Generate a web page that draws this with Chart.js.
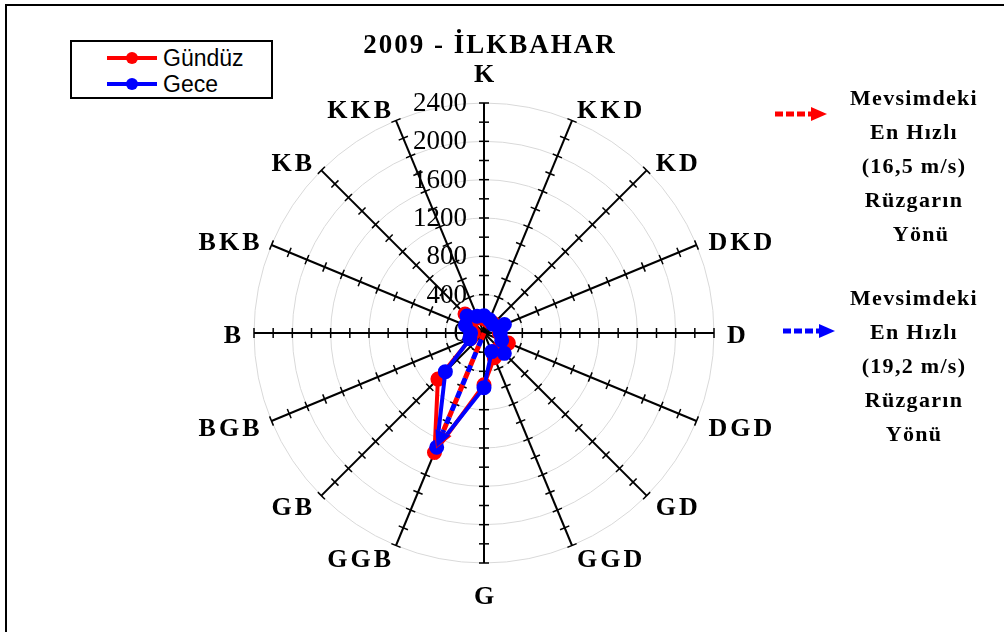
<!DOCTYPE html>
<html>
<head>
<meta charset="utf-8">
<script src="https://cdn.jsdelivr.net/npm/chart.js@4/dist/chart.umd.min.js"></script>
<style>
html,body{margin:0;padding:0;background:#fff;}
#wrap{position:relative;width:1004px;height:632px;overflow:hidden;background:#fff;}
#frame{position:absolute;left:5px;top:4px;width:1100px;height:700px;border-top:2px solid #000;border-left:2px solid #000;}
#c{position:absolute;left:0;top:0;}
.serif{font-family:"Liberation Serif","Times New Roman",serif;font-weight:bold;color:#000;}
#title{position:absolute;left:240px;top:29px;width:500px;text-align:center;font-size:27px;line-height:30px;letter-spacing:2px;}
#legend{position:absolute;left:70px;top:40px;width:203px;height:59px;box-sizing:border-box;border:2px solid #000;background:#fff;}
.litem{position:absolute;left:0;width:200px;height:24px;}
.lline{position:absolute;left:35px;width:50px;height:4px;top:10px;}
.ldot{position:absolute;left:54px;top:6px;width:12px;height:12px;border-radius:50%;}
.ltext{position:absolute;left:91px;top:0;font-family:"Liberation Sans",Arial,sans-serif;font-size:23px;line-height:24px;color:#000;}
.note{position:absolute;left:814px;width:200px;text-align:center;font-size:22px;line-height:34px;letter-spacing:1.3px;}
svg{position:absolute;left:0;top:0;}
</style>
</head>
<body>
<div id="wrap">
  <div id="frame"></div>
  <canvas id="c" width="1004" height="632"></canvas>
  <div id="title" class="serif">2009 - İLKBAHAR</div>
  <div id="legend">
    <div class="litem" style="top:4px"><div class="lline" style="background:#ff0000"></div><div class="ldot" style="background:#ff0000"></div><div class="ltext" id="lt0"></div></div>
    <div class="litem" style="top:30px"><div class="lline" style="background:#0000ff"></div><div class="ldot" style="background:#0000ff"></div><div class="ltext" id="lt1"></div></div>
  </div>
  <svg width="1004" height="632">
    <line x1="775" y1="114" x2="811" y2="114" stroke="#ff0000" stroke-width="5" stroke-dasharray="8 3"/>
    <polygon points="811,107 827,114 811,121" fill="#ff0000"/>
    <line x1="783" y1="331" x2="819" y2="331" stroke="#0000ff" stroke-width="5" stroke-dasharray="8 3"/>
    <polygon points="819,324 835,331 819,338" fill="#0000ff"/>
  </svg>
  <div class="note serif" style="top:81px">Mevsimdeki<br>En Hızlı<br>(16,5 m/s)<br>Rüzgarın<br><span style="padding-left:14px">Yönü</span></div>
  <div class="note serif" style="top:281px">Mevsimdeki<br>En Hızlı<br>(19,2 m/s)<br>Rüzgarın<br>Yönü</div>
</div>
<script>
// ---- data ----
const directions = ['K','KKD','KD','DKD','D','DGD','GD','GGD','G','GGB','GB','BGB','B','BKB','KB','KKB'];
const gunduz = [150,130,140,170,160,275,220,280,540,1350,680,150,110,150,280,170];
const gece   = [180,150,130,230,170,200,300,210,570,1290,570,160,140,210,250,190];
const tickValues = [0,400,800,1200,1600,2000,2400];
const seriesNames = ['Gündüz','Gece'];
const fastestDirection = 'GGB';
const fastestArrowValue = 1290;

document.getElementById('lt0').textContent = seriesNames[0];
document.getElementById('lt1').textContent = seriesNames[1];

const RED = '#ff0000', BLUE = '#0000ff';

const radarDecor = {
  id: 'radarDecor',
  beforeDatasetsDraw(chart) {
    const s = chart.scales.r;
    const ctx = chart.ctx;
    const cx = s.xCenter, cy = s.yCenter;
    const n = directions.length;
    ctx.save();
    // minor tick marks crossing every spoke
    ctx.strokeStyle = '#000';
    ctx.lineWidth = 1.5;
    for (let i = 0; i < n; i++) {
      for (let v = 200; v <= tickValues[tickValues.length - 1]; v += 200) {
        const p = s.getPointPositionForValue(i, v);
        const dx = p.x - cx, dy = p.y - cy;
        const d = Math.hypot(dx, dy);
        const px = -dy / d, py = dx / d;
        ctx.beginPath();
        ctx.moveTo(p.x - px * 5, p.y - py * 5);
        ctx.lineTo(p.x + px * 5, p.y + py * 5);
        ctx.stroke();
      }
    }
    // value labels along the north spoke
    ctx.fillStyle = '#000';
    ctx.font = '27px "Liberation Serif", "Times New Roman", serif';
    ctx.textAlign = 'right';
    ctx.textBaseline = 'middle';
    tickValues.forEach(v => {
      const p = s.getPointPositionForValue(0, v);
      ctx.fillText(String(v), cx - 17, p.y + 1);
    });
    // direction labels
    ctx.font = 'bold 26px "Liberation Serif", "Times New Roman", serif';
    ctx.letterSpacing = '3px';
    ctx.textAlign = 'center';
    const R = s.drawingArea + 13;
    for (let i = 0; i < n; i++) {
      const p = s.getPointPosition(i, R);
      const ux = (p.x - cx) / R, uy = (p.y - cy) / R;
      const w = ctx.measureText(directions[i]).width - 3;
      let x = p.x, y = p.y + 3;
      if (Math.abs(ux) > 0.01) x += Math.sign(ux) * w / 2;
      else y += Math.sign(uy) * 18;
      ctx.fillText(directions[i], x + 1.5, y);
    }
    ctx.restore();
  },
  afterDatasetsDraw(chart) {
    const s = chart.scales.r;
    const ctx = chart.ctx;
    const cx = s.xCenter, cy = s.yCenter;
    const idx = directions.indexOf(fastestDirection);
    const tip = s.getPointPositionForValue(idx, fastestArrowValue);
    const dx = tip.x - cx, dy = tip.y - cy;
    const L = Math.hypot(dx, dy);
    const ux = dx / L, uy = dy / L, px = -uy, py = ux;
    const headLen = 16, headW = 8;
    const bx = tip.x - ux * headLen, by = tip.y - uy * headLen;
    ctx.save();
    ctx.lineWidth = 5;
    ctx.lineCap = 'butt';
    ctx.setLineDash([7, 7]);
    ctx.strokeStyle = RED;
    ctx.beginPath(); ctx.moveTo(cx, cy); ctx.lineTo(bx, by); ctx.stroke();
    ctx.lineDashOffset = 7;
    ctx.strokeStyle = BLUE;
    ctx.beginPath(); ctx.moveTo(cx, cy); ctx.lineTo(bx, by); ctx.stroke();
    ctx.setLineDash([]);
    [[RED, 1.5], [BLUE, 0]].forEach(([col, off]) => {
      ctx.fillStyle = col;
      ctx.beginPath();
      ctx.moveTo(tip.x + ux * off, tip.y + uy * off);
      ctx.lineTo(bx + px * (headW + off), by + py * (headW + off));
      ctx.lineTo(bx - px * (headW + off), by - py * (headW + off));
      ctx.closePath();
      ctx.fill();
    });
    ctx.restore();
  }
};

new Chart(document.getElementById('c'), {
  type: 'radar',
  data: {
    labels: directions,
    datasets: [
      { label: seriesNames[0], data: gunduz, borderColor: RED, backgroundColor: RED,
        pointBackgroundColor: RED, pointBorderColor: RED, pointRadius: 5.5, borderWidth: 4, fill: false, order: 1 },
      { label: seriesNames[1], data: gece, borderColor: BLUE, backgroundColor: BLUE,
        pointBackgroundColor: BLUE, pointBorderColor: BLUE, pointRadius: 5.5, borderWidth: 4, fill: false, order: 0 }
    ]
  },
  options: {
    responsive: false,
    animation: false,
    layout: { padding: { left: 254, right: 290, top: 103, bottom: 69 } },
    plugins: { legend: { display: false }, tooltip: { enabled: false }, title: { display: false } },
    elements: { line: { tension: 0 } },
    scales: {
      r: {
        min: 0, max: 2400,
        ticks: { display: false, stepSize: 400 },
        grid: { circular: true, color: '#d9d9d9', lineWidth: 1 },
        angleLines: { display: true, color: '#000', lineWidth: 2 },
        pointLabels: { display: false }
      }
    }
  },
  plugins: [radarDecor]
});
</script>
</body>
</html>
